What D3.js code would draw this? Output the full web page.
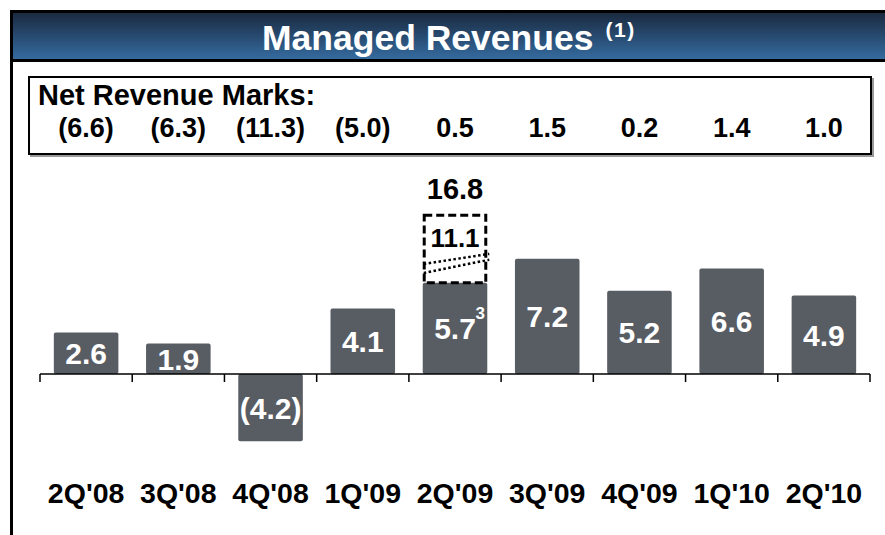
<!DOCTYPE html>
<html>
<head>
<meta charset="utf-8">
<script src="https://cdn.jsdelivr.net/npm/d3@7"></script>
<style>
  html, body { margin: 0; padding: 0; background: #fff; }
  svg { display: block; font-family: "Liberation Sans", Arial, sans-serif; }
</style>
</head>
<body>
<svg id="chart" width="885" height="535"></svg>
<script>
// ---- data ----
const categories = ["2Q'08", "3Q'08", "4Q'08", "1Q'09", "2Q'09", "3Q'09", "4Q'09", "1Q'10", "2Q'10"];
const managedRevenues = [2.6, 1.9, -4.2, 4.1, 5.7, 7.2, 5.2, 6.6, 4.9];
const netRevenueMarks = [-6.6, -6.3, -11.3, -5.0, 0.5, 1.5, 0.2, 1.4, 1.0];
const adjustments = [0, 0, 0, 0, 11.1, 0, 0, 0, 0];   // dashed segment (shown with axis break)
const footnoteMarks = ["", "", "", "", "3", "", "", "", ""];
const titleText = "Managed Revenues";
const titleNote = "(1)";
const marksTitle = "Net Revenue Marks:";

// ---- layout ----
const W = 885, H = 535;
const svg = d3.select("#chart");
const fmt = v => v < 0 ? "(" + d3.format(".1f")(-v) + ")" : d3.format(".1f")(v);
const breakCompression = 0.38;

const defs = svg.append("defs");
const grad = defs.append("linearGradient").attr("id", "hdr").attr("x1", 0).attr("y1", 0).attr("x2", 0).attr("y2", 1);
grad.append("stop").attr("offset", "0%").attr("stop-color", "#1a2a40");
grad.append("stop").attr("offset", "100%").attr("stop-color", "#356b9f");

// frame
svg.append("rect").attr("x", 10).attr("y", 10).attr("width", W).attr("height", H).attr("fill", "#000");
svg.append("rect").attr("x", 13).attr("y", 62).attr("width", W).attr("height", H).attr("fill", "#fff");
svg.append("rect").attr("x", 13).attr("y", 13).attr("width", W).attr("height", 46).attr("fill", "url(#hdr)");

// title
const title = svg.append("text").attr("x", 262).attr("y", 50).attr("text-anchor", "start")
  .attr("fill", "#fff").attr("font-weight", "bold").attr("font-size", 35.5);
title.append("tspan").text(titleText);
title.append("tspan").attr("font-size", 21).attr("dx", 12).attr("dy", -13)
  .attr("letter-spacing", 1.5).text(titleNote);

// scales
const x = d3.scaleBand().domain(categories).range([40, 870]).paddingInner(0.3).paddingOuter(0.15);
const y = d3.scaleLinear().domain([-5, 10]).range([374 + 5 * 16, 374 - 10 * 16]);

// marks box
svg.append("rect").attr("x", 30).attr("y", 78).attr("width", 844).attr("height", 79).attr("fill", "#999");
svg.append("rect").attr("x", 29).attr("y", 77).attr("width", 842).attr("height", 77)
  .attr("fill", "#fff").attr("stroke", "#000").attr("stroke-width", 2);
svg.append("text").attr("x", 38).attr("y", 105).attr("font-weight", "bold").attr("font-size", 29)
  .attr("fill", "#000").text(marksTitle);
svg.append("g").selectAll("text").data(netRevenueMarks).join("text")
  .attr("x", (d, i) => x(categories[i]) + x.bandwidth() / 2)
  .attr("y", 137).attr("text-anchor", "middle").attr("font-weight", "bold").attr("font-size", 27)
  .attr("fill", "#000").text(d => fmt(d));

// bars
const barColor = "#585c63";
svg.append("g").selectAll("rect").data(managedRevenues).join("rect")
  .attr("x", (d, i) => x(categories[i]))
  .attr("y", d => y(Math.max(0, d)))
  .attr("width", x.bandwidth())
  .attr("height", d => Math.abs(y(d) - y(0)))
  .attr("rx", 2)
  .attr("fill", barColor);

svg.append("g").selectAll("text").data(managedRevenues).join("text")
  .attr("x", (d, i) => x(categories[i]) + x.bandwidth() / 2)
  .attr("y", d => (y(d) + y(0)) / 2 + 11)
  .attr("text-anchor", "middle").attr("font-weight", "bold").attr("font-size", 30)
  .attr("fill", "#fff").text(d => fmt(d));

svg.append("g").selectAll("text").data(footnoteMarks).join("text")
  .attr("x", (d, i) => x(categories[i]) + x.bandwidth() - 7)
  .attr("y", (d, i) => y(managedRevenues[i]) + 36)
  .attr("text-anchor", "middle").attr("font-weight", "bold").attr("font-size", 17)
  .attr("fill", "#fff").text(d => d);

// dashed adjustment segment with break
const adjG = svg.append("g");
adjustments.forEach((a, i) => {
  if (!a) return;
  const base = managedRevenues[i];
  const top = base + a * breakCompression;
  const x0 = x(categories[i]), bw = x.bandwidth();
  adjG.append("rect").attr("x", x0 + 1.5).attr("y", y(top)).attr("width", bw - 3)
    .attr("height", y(base) - y(top)).attr("fill", "none").attr("stroke", "#000")
    .attr("stroke-width", 3).attr("stroke-dasharray", "8,4");
  adjG.append("text").attr("x", x0 + bw / 2).attr("y", y(top) + 32).attr("text-anchor", "middle")
    .attr("font-weight", "bold").attr("font-size", 26).attr("fill", "#000").text(fmt(a));
  const yb = y(base + a * breakCompression * 0.28);
  [0, 9].forEach(off => {
    adjG.append("line").attr("x1", x0 + 1).attr("x2", x0 + bw + 2)
      .attr("y1", yb + off).attr("y2", yb + off - 10 - off * 0.35)
      .attr("stroke", "#000").attr("stroke-width", 2.5).attr("stroke-dasharray", "2.5,2.5");
  });
  adjG.append("text").attr("x", x0 + bw / 2).attr("y", y(top) - 16).attr("text-anchor", "middle")
    .attr("font-weight", "bold").attr("font-size", 29).attr("fill", "#000").text(fmt(base + a));
});

// axis
const ticks = d3.range(categories.length + 1).map(i => x.range()[0] + i * x.step());
svg.append("line").attr("x1", 40).attr("x2", 870).attr("y1", y(0)).attr("y2", y(0))
  .attr("stroke", "#000").attr("stroke-width", 1.5);
svg.append("g").selectAll("line").data(ticks).join("line")
  .attr("x1", d => d).attr("x2", d => d).attr("y1", y(0)).attr("y2", y(0) + 8)
  .attr("stroke", "#000").attr("stroke-width", 1.5);

svg.append("g").selectAll("text").data(categories).join("text")
  .attr("x", d => x(d) + x.bandwidth() / 2).attr("y", 503).attr("text-anchor", "middle")
  .attr("font-weight", "bold").attr("font-size", 28.5).attr("fill", "#000").text(d => d);
</script>
</body>
</html>
